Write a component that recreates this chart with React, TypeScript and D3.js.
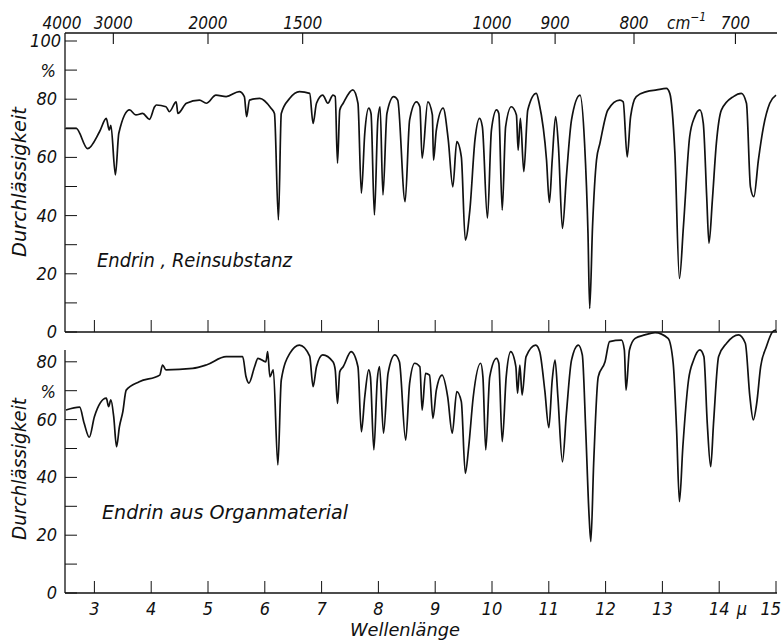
import React from "react";
import * as d3 from "d3";

// IR-Spektren von Endrin: [Wellenlänge µ, Durchlässigkeit %]
const reinSpectrum: [number, number][] = [
  [2.5, 70], [2.68, 70], [2.88, 63], [3.09, 68.8], [3.21, 73.4], [3.26, 69.4], [3.29, 71],
  [3.37, 54], [3.43, 68.3], [3.62, 76.3], [3.73, 74.6], [3.85, 75.1], [3.97, 73.1], [4.06, 77.4],
  [4.09, 78], [4.26, 77.4], [4.32, 75.7], [4.44, 79.1], [4.47, 75.1], [4.62, 78.6], [4.85, 79.7],
  [4.97, 78.6], [5.14, 81.4], [5.32, 80.9], [5.55, 82.6], [5.64, 80.9], [5.68, 74], [5.73, 79.7],
  [5.91, 80.3], [6.11, 76.9], [6.17, 75.1], [6.24, 38.5], [6.29, 75.1], [6.44, 80.3], [6.61, 82.6],
  [6.79, 82], [6.85, 71.7], [6.91, 78.6], [7.02, 81.4], [7.11, 78.6], [7.2, 81.4], [7.24, 80.9],
  [7.28, 58], [7.32, 76.3], [7.38, 78.6], [7.55, 83.2], [7.64, 78.6], [7.7, 47.7], [7.76, 68.3],
  [7.83, 76.9], [7.87, 75.1], [7.93, 40.2], [7.99, 72.9], [8.03, 77.4], [8.08, 47.1], [8.15, 75.1],
  [8.27, 80.9], [8.34, 79.7], [8.47, 44.8], [8.55, 72.9], [8.67, 79.1], [8.73, 77.4], [8.77, 59.7],
  [8.87, 79.1], [8.95, 74.6], [8.97, 59.1], [9.02, 69.4], [9.14, 76.9], [9.23, 66], [9.31, 49.9],
  [9.38, 65.4], [9.46, 60.2], [9.53, 31.6], [9.61, 41.9], [9.7, 66], [9.78, 73.4], [9.83, 70.6],
  [9.92, 39.1], [9.99, 69.4], [10.08, 76.3], [10.12, 75.1], [10.18, 41.9], [10.24, 70.6],
  [10.34, 77.4], [10.43, 74.6], [10.46, 62.5], [10.5, 73.4], [10.56, 55.1], [10.63, 76.3],
  [10.78, 82], [10.83, 78.6], [10.96, 59.1], [11.01, 44.5], [11.06, 59.1], [11.12, 74],
  [11.17, 63.7], [11.24, 35.6], [11.31, 53.4], [11.4, 72.9], [11.55, 81.4], [11.63, 64.8],
  [11.69, 33.9], [11.72, 8.1], [11.77, 36.2], [11.84, 59.1], [11.9, 64.8], [12.04, 76.3],
  [12.25, 79.7], [12.31, 79.1], [12.38, 60.2], [12.44, 74], [12.54, 80.9], [12.72, 82.6],
  [12.9, 83.2], [13.07, 83.7], [13.13, 82], [13.22, 61.4], [13.3, 18.4], [13.37, 36.2],
  [13.48, 67.1], [13.57, 74], [13.66, 76.3], [13.72, 71.7], [13.78, 46.5], [13.82, 30.5],
  [13.88, 45.4], [13.95, 64.8], [14.04, 76.3], [14.25, 80.9], [14.39, 82], [14.48, 78.6],
  [14.55, 49.9], [14.61, 46.5], [14.69, 59.1], [14.78, 70.6], [14.89, 78.6], [15, 81.4]
];

const organSpectrum: [number, number][] = [
  [2.5, 63.3], [2.74, 64.3], [2.82, 58.7], [2.91, 53.9], [3.0, 61], [3.21, 67.4], [3.25, 64.5],
  [3.29, 66.8], [3.34, 61], [3.39, 50.6], [3.44, 57.5], [3.5, 62.7], [3.56, 70.2], [3.79, 73.1],
  [4.15, 75.4], [4.2, 78.9], [4.26, 77.2], [4.73, 77.7], [4.97, 78.9], [5.32, 81.8], [5.61, 81.8],
  [5.67, 74.8], [5.72, 72.6], [5.82, 78.3], [5.88, 81.2], [6.02, 80], [6.05, 83.5], [6.09, 74.8],
  [6.15, 77.2], [6.23, 44.3], [6.29, 73.7], [6.44, 82.9], [6.61, 85.8], [6.79, 82], [6.85, 71.4],
  [6.91, 78.3], [7.02, 82.4], [7.2, 80], [7.24, 77.2], [7.28, 65.6], [7.32, 76.6], [7.38, 78.3],
  [7.52, 83.5], [7.64, 78.3], [7.7, 55.8], [7.76, 67.9], [7.83, 77.2], [7.86, 74.8], [7.92, 49.5],
  [7.98, 73.7], [8.02, 78.3], [8.09, 55.3], [8.17, 76], [8.29, 82.4], [8.37, 80], [8.48, 52.9],
  [8.55, 72.6], [8.64, 79.5], [8.73, 78.3], [8.77, 63.3], [8.83, 76], [8.9, 75.4], [8.96, 60.4],
  [9.02, 70.2], [9.12, 75.4], [9.22, 67.9], [9.3, 55.3], [9.38, 69.7], [9.46, 66.2], [9.53, 41.4],
  [9.59, 50.6], [9.67, 67.9], [9.8, 79.5], [9.84, 74.8], [9.89, 49.5], [9.96, 74.8], [10.08, 81.2],
  [10.12, 79.5], [10.18, 52.4], [10.25, 74.8], [10.33, 83.5], [10.42, 78.3], [10.45, 69.1],
  [10.49, 78.9], [10.53, 68.5], [10.6, 81.8], [10.77, 85.8], [10.84, 83.5], [10.93, 70],
  [11.0, 57.2], [11.06, 73.7], [11.11, 80.6], [11.16, 67.9], [11.24, 45.4], [11.31, 62.2],
  [11.4, 80.6], [11.52, 85.8], [11.59, 82.4], [11.65, 56.4], [11.71, 26.4], [11.74, 17.8],
  [11.79, 44.9], [11.87, 74.8], [11.99, 80], [12.07, 87], [12.28, 87.5], [12.33, 84.1],
  [12.36, 70.2], [12.42, 84.1], [12.52, 88.1], [12.69, 89.3], [12.87, 90.1], [13.1, 88.1],
  [13.19, 79.5], [13.25, 56.4], [13.3, 31.6], [13.36, 50.6], [13.46, 73.7], [13.55, 80.6],
  [13.66, 84.1], [13.73, 81.8], [13.79, 58.7], [13.85, 43.7], [13.9, 58.7], [13.99, 81.8],
  [14.13, 86.4], [14.34, 89.3], [14.46, 86.4], [14.54, 67.9], [14.6, 59.9], [14.66, 65.6],
  [14.73, 78.3], [14.83, 85.2], [14.94, 90.4], [15, 91]
];

const wavelengthTicks = [3, 4, 5, 6, 7, 8, 9, 10, 11, 12, 13, 14, 15];
const wavenumberTicks = [4000, 3000, 2000, 1500, 1000, 900, 800, 700];
const topYTicks = [0, 10, 20, 30, 40, 50, 60, 70, 80, 90, 100];
const topYLabels = [0, 20, 40, 60, 80, 100];
const bottomYTicks = [0, 10, 20, 30, 40, 50, 60, 70, 80];
const bottomYLabels = [0, 20, 40, 60, 80];

const FONT = "'DejaVu Sans Condensed', 'Liberation Sans Narrow', 'DejaVu Sans', sans-serif";
const INK = "#111";

export default function App() {
  const x = d3.scaleLinear().domain([2.5, 15]).range([66, 776]);
  const yTop = d3.scaleLinear().domain([0, 100]).range([332, 41]);
  const yBot = d3.scaleLinear().domain([0, 100]).range([593, 304]);
  const left = 65;

  const lineTop = d3
    .line<[number, number]>()
    .x(d => x(d[0]))
    .y(d => yTop(d[1]))
    .curve(d3.curveMonotoneX);
  const lineBot = d3
    .line<[number, number]>()
    .x(d => x(d[0]))
    .y(d => yBot(d[1]))
    .curve(d3.curveMonotoneX);

  const txt = {
    fontFamily: FONT,
    fontStyle: "italic" as const,
    fill: INK
  };

  return (
    <svg
      width={784}
      height={644}
      style={{ position: "absolute", left: 0, top: 0, background: "#fff" }}
    >
      {/* top frame line with wavenumber scale */}
      <line x1={left} x2={777} y1={33} y2={33} stroke={INK} strokeWidth={1.3} />
      {wavenumberTicks.map(k => {
        const px = x(10000 / k);
        return (
          <g key={k}>
            {k !== 4000 && (
              <line x1={px} x2={px} y1={33} y2={44} stroke={INK} strokeWidth={1.1} />
            )}
            <text {...txt} x={k === 4000 ? 62 : px} y={29} fontSize={17} textAnchor="middle">
              {k}
            </text>
          </g>
        );
      })}
      <text {...txt} x={667} y={29} fontSize={17}>
        cm
        <tspan dy={-8} fontSize={12}>
          −1
        </tspan>
      </text>

      {/* top panel axes */}
      <line x1={left} x2={left} y1={33} y2={332} stroke={INK} strokeWidth={1.3} />
      <line x1={left} x2={777} y1={332} y2={332} stroke={INK} strokeWidth={1.3} />
      {topYTicks.map(v => (
        <line key={v} x1={left} x2={left + 12} y1={yTop(v)} y2={yTop(v)} stroke={INK} strokeWidth={1} />
      ))}
      {topYLabels.map(v => (
        <text {...txt} key={v} x={v === 100 ? 61 : 57} y={yTop(v) + 6} fontSize={18} textAnchor="end">
          {v}
        </text>
      ))}
      <text {...txt} x={56} y={yTop(90) + 7} fontSize={18} textAnchor="end">
        %
      </text>
      {wavelengthTicks.map(t => (
        <line key={t} x1={x(t)} x2={x(t)} y1={332} y2={320} stroke={INK} strokeWidth={1} />
      ))}
      <text
        {...txt}
        transform="translate(26,182) rotate(-90)"
        fontSize={19}
        textAnchor="middle"
        textLength={150}
        lengthAdjust="spacingAndGlyphs"
      >
        Durchlässigkeit
      </text>
      <text {...txt} x={97} y={267} fontSize={19} textLength={195} lengthAdjust="spacingAndGlyphs">
        Endrin , Reinsubstanz
      </text>
      <path d={lineTop(reinSpectrum) || ""} fill="none" stroke={INK} strokeWidth={1.7} strokeLinejoin="round" />

      {/* bottom panel axes */}
      <line x1={left} x2={left} y1={350} y2={593} stroke={INK} strokeWidth={1.3} />
      <line x1={left} x2={777} y1={593} y2={593} stroke={INK} strokeWidth={1.3} />
      {bottomYTicks.map(v => (
        <line key={v} x1={left} x2={left + 12} y1={yBot(v)} y2={yBot(v)} stroke={INK} strokeWidth={1} />
      ))}
      {bottomYLabels.map(v => (
        <text {...txt} key={v} x={57} y={yBot(v) + 6} fontSize={18} textAnchor="end">
          {v}
        </text>
      ))}
      <text {...txt} x={56} y={yBot(70) + 7} fontSize={18} textAnchor="end">
        %
      </text>
      {wavelengthTicks.map(t => (
        <g key={t}>
          <line x1={x(t)} x2={x(t)} y1={593} y2={581} stroke={INK} strokeWidth={1} />
          <text
            {...txt}
            x={t === 15 ? 781 : x(t)}
            y={615}
            fontSize={18}
            textAnchor={t === 15 ? "end" : "middle"}
          >
            {t}
          </text>
        </g>
      ))}
      <text {...txt} x={742} y={615} fontSize={18} textAnchor="middle">
        μ
      </text>
      <text
        {...txt}
        transform="translate(26,469) rotate(-90)"
        fontSize={19}
        textAnchor="middle"
        textLength={142}
        lengthAdjust="spacingAndGlyphs"
      >
        Durchlässigkeit
      </text>
      <text {...txt} x={102} y={519} fontSize={19} textLength={246} lengthAdjust="spacingAndGlyphs">
        Endrin aus Organmaterial
      </text>
      <text {...txt} x={350} y={636} fontSize={18} textLength={110} lengthAdjust="spacingAndGlyphs">
        Wellenlänge
      </text>
      <path d={lineBot(organSpectrum) || ""} fill="none" stroke={INK} strokeWidth={1.7} strokeLinejoin="round" />
    </svg>
  );
}
